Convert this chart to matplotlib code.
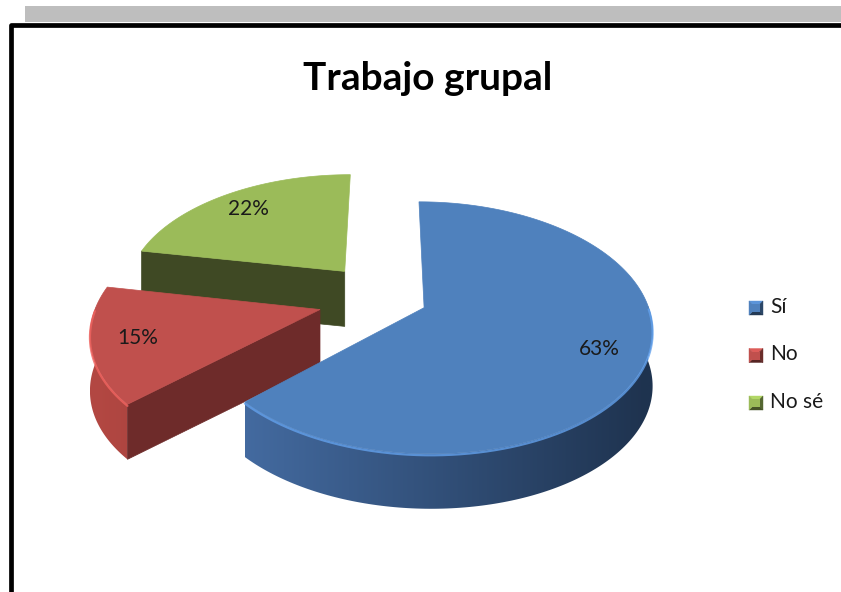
import numpy as np
import matplotlib
matplotlib.use('Agg')
from matplotlib import pyplot as plt
from matplotlib.patches import Polygon, Rectangle

# data
labels = ['Sí', 'No', 'No sé']
values = [63, 15, 22]
title = 'Trabajo grupal'

# style
top_colors = ['#4F81BD', '#C0504D', '#9BBB59']
side_colors = ['#1F3552', '#6E2B2A', '#3F4924']
rim_light = [(0.28, 0.44, 0.66), (0.70, 0.28, 0.26), (0.45, 0.55, 0.26)]
rim_dark = [(0.12, 0.20, 0.31), (0.45, 0.17, 0.16), (0.25, 0.29, 0.14)]
explode = [0.18, 0.31, 0.31]

# projection of the pie plane (pixel space)
cx, cy = 387, 299
Rx, Ry = 222, 120
persp = 0.158
depth = 55


def proj(u, v):
  w = 1 + persp * v
  return cx + Rx * u / w, cy - Ry * v / w


fig = plt.figure(figsize=(8.41, 5.92), dpi=100)
ax = fig.add_axes([0, 0, 1, 1])

# frame
ax.add_patch(Rectangle((25, 6), 830, 16, color='#BEBEBE', lw=0))
ax.plot([11, 11, 850], [600, 24.5, 24.5], color='black', lw=3.4,
        solid_joinstyle='round')

fr = np.array(values, dtype=float) / sum(values)
cum = np.concatenate([[0], np.cumsum(fr)])
a_start = 90 - 360 * cum[:-1]
a_end = 90 - 360 * cum[1:]

for i in [2, 1, 0]:
  lo, hi = np.radians(a_end[i]), np.radians(a_start[i])
  mid = (lo + hi) / 2
  ox, oy = explode[i] * np.cos(mid), explode[i] * np.sin(mid)
  t = np.linspace(lo, hi, 240)
  xs, ys = proj(ox + np.cos(t), oy + np.sin(t))
  ax0, ay0 = proj(ox, oy)

  # radial faces
  for ang, vis in [(lo, np.cos(lo) > 1e-6), (hi, np.cos(hi) < -1e-6)]:
    if vis:
      rx, ry = proj(ox + np.cos(ang), oy + np.sin(ang))
      ax.add_patch(Polygon([(ax0, ay0), (rx, ry), (rx, ry + depth),
                            (ax0, ay0 + depth)], closed=True,
                           facecolor=side_colors[i], edgecolor=side_colors[i],
                           lw=0.5))

  # outer rim (front part), shaded left to right
  front = np.sin(t) < 0.02
  if front.any():
    fx, fy = xs[front], ys[front]
    rim = Polygon(np.column_stack([np.r_[fx, fx[::-1]],
                                   np.r_[fy, fy[::-1] + depth]]),
                  closed=True, facecolor='none', edgecolor='none')
    ax.add_patch(rim)
    gx = np.linspace(fx.min(), fx.max(), 200)
    u = np.clip((gx - ax0) / Rx, -1, 1)
    f = ((1 - u) / 2)[:, None]
    l, d = np.array(rim_light[i]), np.array(rim_dark[i])
    grad = (d + (l - d) * f)[None, :, :]
    im = ax.imshow(grad, extent=(fx.min(), fx.max(), fy.max() + depth,
                                 fy.min()),
                   aspect='auto', interpolation='bilinear')
    im.set_clip_path(rim)

  # top face
  ax.add_patch(Polygon(np.column_stack([np.r_[ax0, xs], np.r_[ay0, ys]]),
                       closed=True, facecolor=top_colors[i],
                       edgecolor=top_colors[i], lw=0.5))
  # bevel highlight along front edge
  front = np.sin(t) < 0
  if front.any():
    hl = np.clip(np.array(matplotlib.colors.to_rgb(top_colors[i])) * 1.25, 0, 1)
    ax.plot(xs[front], ys[front] + 1.5, color=hl, lw=1.6, alpha=0.8,
            solid_capstyle='round')

  # label
  lx, ly = proj(ox + 0.8 * np.cos(mid), oy + 0.8 * np.sin(mid))
  ax.text(lx, ly, '%d%%' % values[i], fontsize=15, family='Lato',
          ha='center', va='center', color='#1a1a1a')

# title
ax.text(428, 78, title, fontsize=28, family='Lato', fontweight='bold',
        ha='center', va='center', color='black')

# legend
for i, lab in enumerate(labels):
  y = 308 + i * 47.5
  x0, s = 749, 14
  base = np.array(matplotlib.colors.to_rgb(top_colors[i]))
  c = (x0 + s / 2, y)
  corners = [(x0, y - s / 2), (x0 + s, y - s / 2), (x0 + s, y + s / 2),
             (x0, y + s / 2)]
  shades = [1.15, 0.55, 0.45, 1.0]
  for k in range(4):
    col = np.clip(base * shades[k], 0, 1)
    ax.add_patch(Polygon([c, corners[k], corners[(k + 1) % 4]], closed=True,
                         facecolor=col, edgecolor=col, lw=0.3))
  ax.add_patch(Rectangle((x0 + 3, y - s / 2 + 3), s - 6, s - 6,
                         facecolor=base, lw=0))
  ax.text(x0 + 21, y - 1, lab, fontsize=15, family='Lato', ha='left',
          va='center', color='#1a1a1a')

ax.set_xlim(0, 841)
ax.set_ylim(592, 0)
ax.axis('off')

fig.savefig('out.png', dpi=100)
